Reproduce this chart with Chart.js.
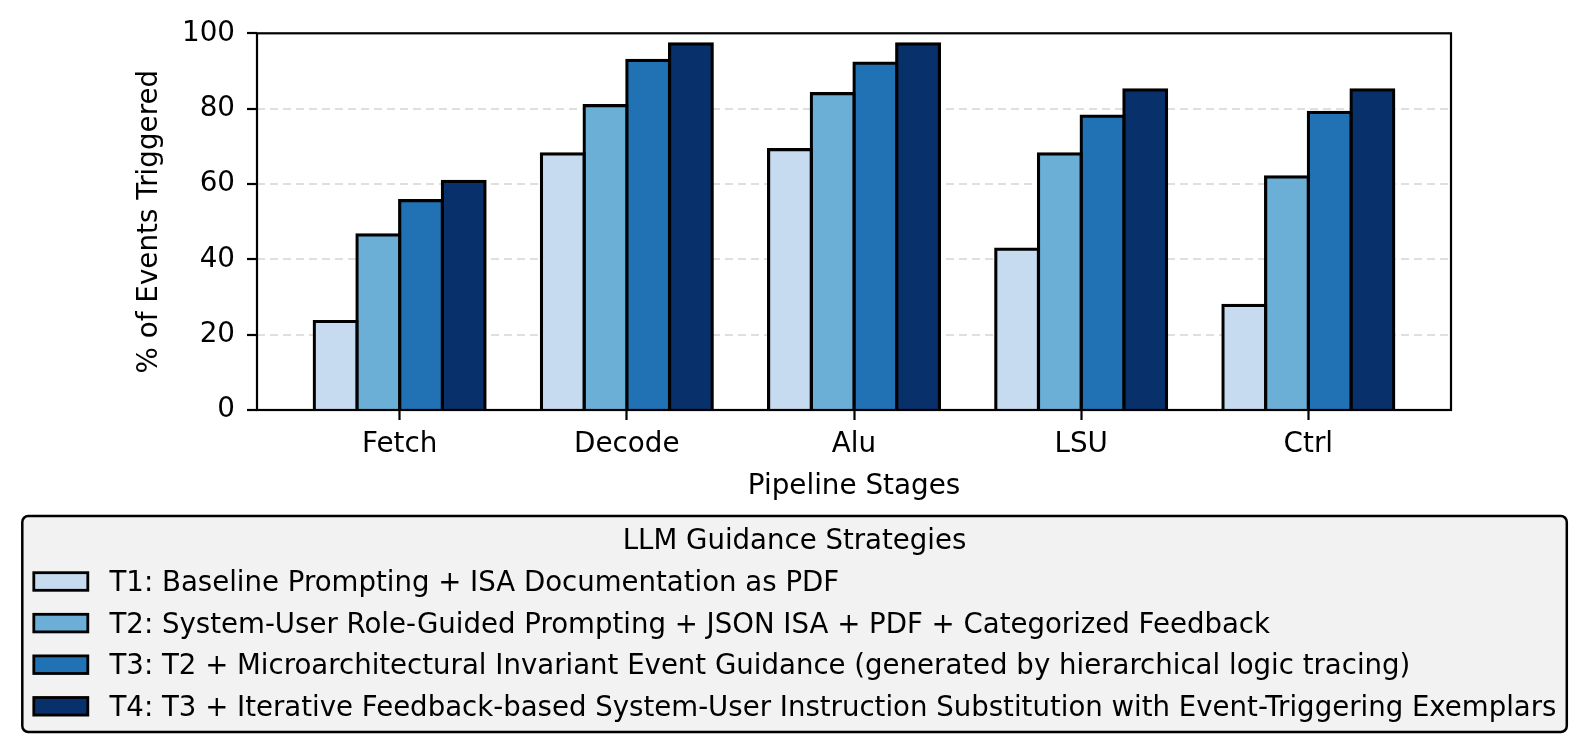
<!DOCTYPE html>
<html>
<head>
<meta charset="utf-8">
<script src="https://cdn.jsdelivr.net/npm/chart.js@4.4.1/dist/chart.umd.min.js"></script>
<style>
  html, body { margin: 0; padding: 0; background: #fff; }
  #wrap { width: 1589px; height: 755px; position: relative; }
</style>
</head>
<body>
<div id="wrap"><canvas id="chart"></canvas></div>
<script>
// Data
const stages = ['Fetch', 'Decode', 'Alu', 'LSU', 'Ctrl'];
const strategyLabels = [
    'T1: Baseline Prompting + ISA Documentation as PDF',
    'T2: System-User Role-Guided Prompting + JSON ISA + PDF + Categorized Feedback',
    'T3: T2 + Microarchitectural Invariant Event Guidance (generated by hierarchical logic tracing)',
    'T4: T3 + Iterative Feedback-based System-User Instruction Substitution with Event-Triggering Exemplars',
];
const t1Values = [23.5, 68, 69.1, 42.7, 27.8];
const t2Values = [46.5, 80.8, 84, 68, 61.9];
const t3Values = [55.6, 92.8, 92.1, 78, 79];
const t4Values = [60.7, 97.2, 97.2, 85, 85];
const yTicks = [0, 20, 40, 60, 80, 100];
const legendTitle = 'LLM Guidance Strategies';

const SERIES = [t1Values, t2Values, t3Values, t4Values];
const BLUES = ['#c6dbef', '#6baed6', '#2171b5', '#08306b'];

Chart.defaults.font.family = "'DejaVu Sans', sans-serif";
Chart.defaults.color = '#000';

// axes frame on all four sides, drawn last
const framePlugin = {
    id: 'frame',
    afterDraw(chart) {
        const { ctx, chartArea: a } = chart;
        ctx.save();
        ctx.strokeStyle = '#000';
        ctx.lineWidth = 2.2;
        ctx.strokeRect(a.left, a.top, a.right - a.left, a.bottom - a.top);
        ctx.restore();
    }
};

// boxed legend under the axes, matplotlib style
const legendPlugin = {
    id: 'boxLegend',
    afterDraw(chart) {
        const ctx = chart.ctx;
        const bx = 22.3, by = 516, bw = 1544.5, bh = 216;
        ctx.save();
        ctx.beginPath();
        ctx.roundRect(bx, by, bw, bh, 6);
        ctx.fillStyle = '#f2f2f2';
        ctx.fill();
        ctx.lineWidth = 2.5;
        ctx.strokeStyle = '#000';
        ctx.stroke();

        ctx.font = "27.6px 'DejaVu Sans'";
        ctx.fillStyle = '#000';
        ctx.textAlign = 'center';
        ctx.textBaseline = 'alphabetic';
        ctx.fillText(legendTitle, bx + bw / 2, 548.5);

        ctx.textAlign = 'left';
        chart.data.datasets.forEach((ds, i) => {
            const top = 571.3 + i * 41.6;
            ctx.fillStyle = ds.backgroundColor;
            ctx.fillRect(33.8, top + 1.4, 54, 17.6);
            ctx.lineWidth = 2.8;
            ctx.strokeStyle = '#000';
            ctx.strokeRect(33.8, top + 1.4, 54, 17.6);
            ctx.fillStyle = '#000';
            ctx.fillText(ds.label, 109.5, top + 19.8);
        });
        ctx.restore();
    }
};

new Chart(document.getElementById('chart'), {
    type: 'bar',
    data: {
        datasets: SERIES.map((vals, i) => ({
            label: strategyLabels[i],
            data: vals.map((v, k) => ({ x: k, y: v })),
            backgroundColor: BLUES[i],
            borderColor: '#000',
            borderWidth: 3.2,
            inflateAmount: 1.6,   // centres the edge on the bar outline
            borderSkipped: 'start',
            categoryPercentage: 0.752,
            barPercentage: 1,
        }))
    },
    options: {
        responsive: true,
        maintainAspectRatio: false,
        animation: false,
        layout: { padding: { left: 0, top: 33.3, right: 138, bottom: 245 } },
        plugins: {
            legend: { display: false },
            tooltip: { enabled: false },
        },
        scales: {
            x: {
                type: 'linear',
                min: -0.628,
                max: 4.628,
                offset: false,
                afterBuildTicks: s => { s.ticks = stages.map((_, i) => ({ value: i })); },
                afterFit: s => { s.height = 100; },
                grid: {
                    display: true, drawOnChartArea: false, drawTicks: true, offset: false,
                    tickLength: 10, tickColor: '#000', tickWidth: 2.2,
                },
                border: { display: false },
                ticks: {
                    callback: v => stages[v],
                    font: { size: 27.8 }, color: '#000', padding: 8,
                    maxRotation: 0, autoSkip: false,
                },
                title: {
                    display: true, text: 'Pipeline Stages', color: '#000',
                    font: { size: 27.8 }, padding: { top: 0, bottom: 6.3 },
                },
            },
            y: {
                min: 0,
                max: 100,
                z: 1,
                afterBuildTicks: s => { s.ticks = yTicks.map(v => ({ value: v })); },
                afterFit: s => { s.width = 257; },
                grid: {
                    color: c => (c.tick && (c.tick.value === 0 || c.tick.value === 100))
                        ? 'rgba(0,0,0,0)' : 'rgba(150,150,150,0.3)',
                    lineWidth: 2,
                    tickLength: 10, tickColor: '#000', tickWidth: 2.2, tickBorderDash: [],
                },
                border: { display: false, dash: [8, 5] },
                ticks: { font: { size: 27.8 }, color: '#000', padding: 12 },
                title: {
                    display: true, text: '% of Events Triggered', color: '#000',
                    font: { size: 27.8 }, padding: { top: 133.3, bottom: 0 },
                },
            },
        },
    },
    plugins: [framePlugin, legendPlugin],
});
</script>
</body>
</html>
